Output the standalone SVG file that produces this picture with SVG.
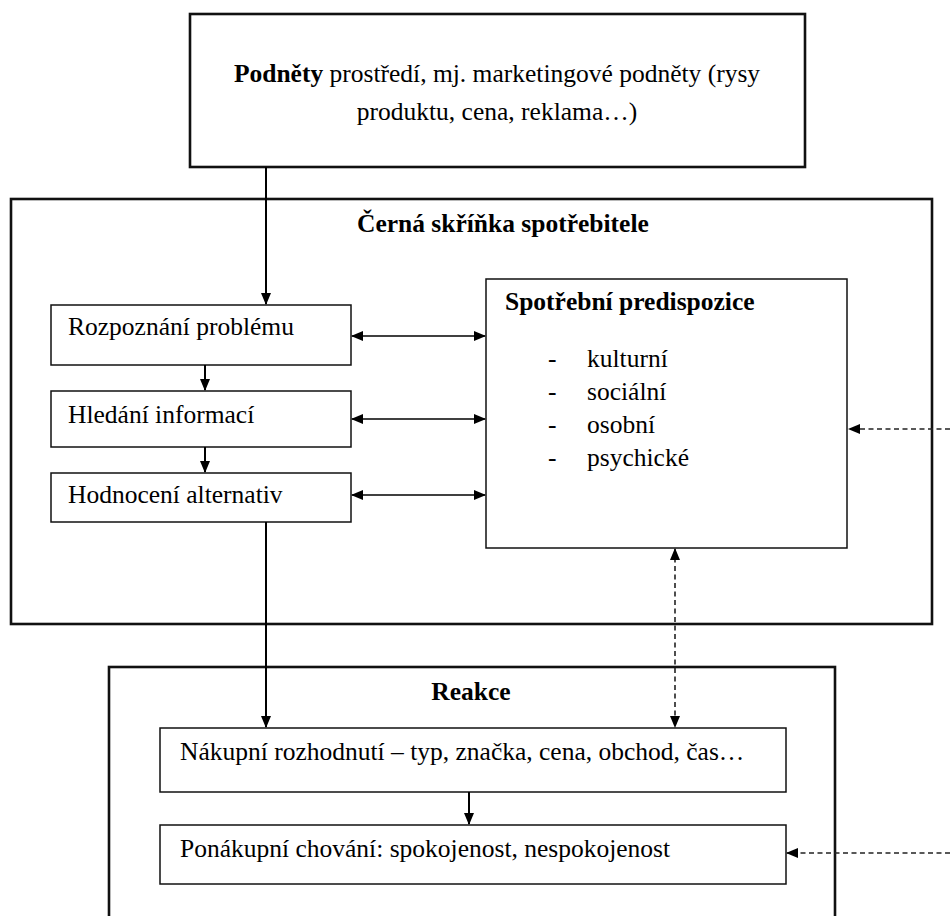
<svg xmlns="http://www.w3.org/2000/svg" width="950" height="916" viewBox="0 0 950 916">
<defs>
<style>
text{font-family:"Liberation Serif","Times New Roman",serif;font-size:25.5px;fill:#000}
.b{font-weight:bold}
.thick{fill:#fff;stroke:#111;stroke-width:2.6}
.thin{fill:#fff;stroke:#111;stroke-width:1.5}
.sol{fill:none;stroke:#000;stroke-width:2}
.solt{fill:none;stroke:#000;stroke-width:1.4}
.dash{fill:none;stroke:#222;stroke-width:1.6;stroke-dasharray:5 3.5}
</style>
<marker id="ah" markerUnits="userSpaceOnUse" markerWidth="12" markerHeight="10" refX="11" refY="5" orient="auto-start-reverse" viewBox="0 0 12 10">
<path d="M0,0 L12,5 L0,10 Z" fill="#000"/>
</marker>
</defs>
<g id="stimuli">
<rect class="thick" x="190" y="14" width="615" height="153"/>
<text x="497" y="82" text-anchor="middle"><tspan class="b">Podněty</tspan> prostředí, mj. marketingové podněty (rysy</text>
<text x="497" y="120" text-anchor="middle">produktu, cena, reklama…)</text>
</g>
<g id="blackbox">
<rect class="thick" x="11" y="199" width="921" height="425"/>
<text class="b" x="357" y="232">Černá skříňka spotřebitele</text>
</g>
<g id="reakce">
<rect class="thick" x="109" y="667" width="726" height="270"/>
<text class="b" x="471" y="700" text-anchor="middle">Reakce</text>
</g>
<g id="rozpoznani">
<rect class="thin" x="51" y="305" width="300" height="60"/>
<text x="68" y="335">Rozpoznání problému</text>
</g>
<g id="hledani">
<rect class="thin" x="51" y="391" width="300" height="56"/>
<text x="68" y="423">Hledání informací</text>
</g>
<g id="hodnoceni">
<rect class="thin" x="51" y="473" width="300" height="49"/>
<text x="68" y="503">Hodnocení alternativ</text>
</g>
<g id="predispozice">
<rect class="thin" x="486" y="279" width="361" height="269"/>
<text class="b" x="505" y="310">Spotřební predispozice</text>
<text x="548" y="367">-</text><text x="587" y="367">kulturní</text>
<text x="548" y="400">-</text><text x="587" y="400">sociální</text>
<text x="548" y="433">-</text><text x="587" y="433">osobní</text>
<text x="548" y="466">-</text><text x="587" y="466">psychické</text>
</g>
<g id="nakupni">
<rect class="thin" x="160" y="728" width="626" height="64"/>
<text x="180" y="760">Nákupní rozhodnutí – typ, značka, cena, obchod, čas…</text>
</g>
<g id="ponakupni">
<rect class="thin" x="160" y="825" width="626" height="59"/>
<text x="180" y="857">Ponákupní chování: spokojenost, nespokojenost</text>
</g>
<g id="connectors">
<path class="sol" d="M266,167 V304" marker-end="url(#ah)"/>
<path class="sol" d="M205,365 V390" marker-end="url(#ah)"/>
<path class="sol" d="M205,447 V472" marker-end="url(#ah)"/>
<path class="solt" d="M352,336 H485" marker-start="url(#ah)" marker-end="url(#ah)"/>
<path class="solt" d="M352,419 H485" marker-start="url(#ah)" marker-end="url(#ah)"/>
<path class="solt" d="M352,495 H485" marker-start="url(#ah)" marker-end="url(#ah)"/>
<path class="sol" d="M266,522 V727" marker-end="url(#ah)"/>
<path class="sol" d="M469,792 V824" marker-end="url(#ah)"/>
<path class="dash" d="M950,429 H849" marker-end="url(#ah)"/>
<path class="dash" d="M675,549 V727" marker-start="url(#ah)" marker-end="url(#ah)"/>
<path class="dash" d="M950,853 H787" marker-end="url(#ah)"/>
</g>
</svg>
